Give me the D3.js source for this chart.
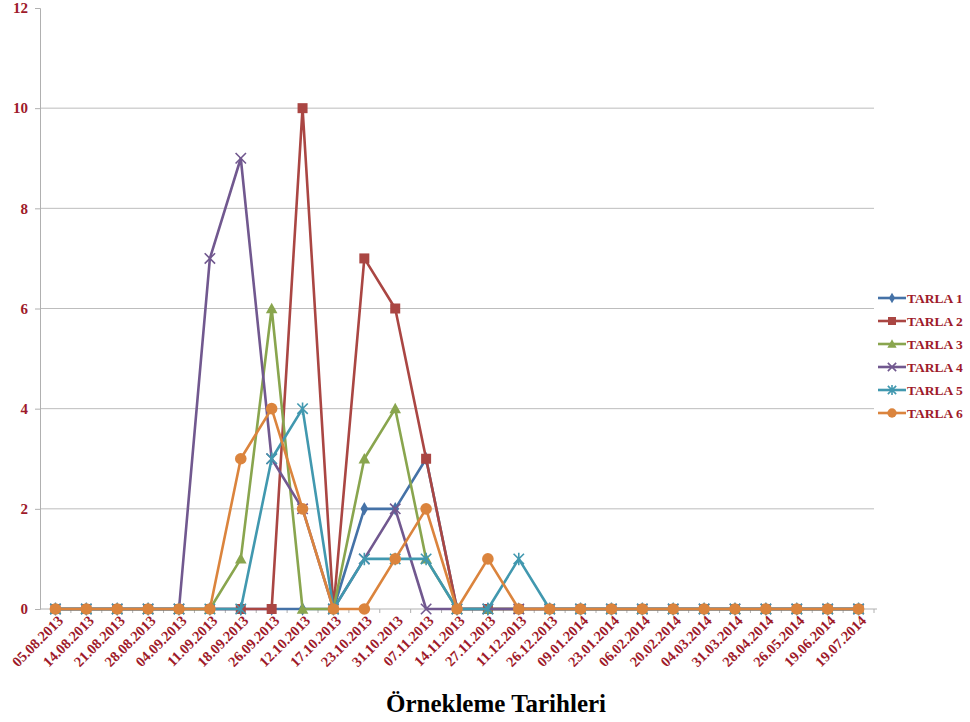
<!DOCTYPE html>
<html>
<head>
<meta charset="utf-8">
<script src="https://cdn.jsdelivr.net/npm/d3@7"></script>
<style>
  html, body { margin: 0; padding: 0; background: #fff; }
  svg { display: block; }
</style>
</head>
<body>
<svg id="chart" width="970" height="722"></svg>
<script>
// Sampling dates (x axis categories)
const dates = ["05.08.2013","14.08.2013","21.08.2013","28.08.2013","04.09.2013","11.09.2013",
  "18.09.2013","26.09.2013","12.10.2013","17.10.2013","23.10.2013","31.10.2013","07.11.2013",
  "14.11.2013","27.11.2013","11.12.2013","26.12.2013","09.01.2014","23.01.2014","06.02.2014",
  "20.02.2014","04.03.2014","31.03.2014","28.04.2014","26.05.2014","19.06.2014","19.07.2014"];

// Counts per field
const tarla1 = [0,0,0,0,0,0,0,0,0,0,2,2,3,0,0,0,0,0,0,0,0,0,0,0,0,0,0];
const tarla2 = [0,0,0,0,0,0,0,0,10,0,7,6,3,0,0,0,0,0,0,0,0,0,0,0,0,0,0];
const tarla3 = [0,0,0,0,0,0,1,6,0,0,3,4,1,0,0,0,0,0,0,0,0,0,0,0,0,0,0];
const tarla4 = [0,0,0,0,0,7,9,3,2,0,1,2,0,0,0,0,0,0,0,0,0,0,0,0,0,0,0];
const tarla5 = [0,0,0,0,0,0,0,3,4,0,1,1,1,0,0,1,0,0,0,0,0,0,0,0,0,0,0];
const tarla6 = [0,0,0,0,0,0,3,4,2,0,0,1,2,0,1,0,0,0,0,0,0,0,0,0,0,0,0];

const seriesNames = ["TARLA 1","TARLA 2","TARLA 3","TARLA 4","TARLA 5","TARLA 6"];
const yTicks = [0,2,4,6,8,10,12];

const colors = ["#4572A7","#AA4643","#89A54E","#71588F","#4198AF","#DB843D"];
const shapes = ["diamond","square","triangle","x","star","circle"];
const series = [tarla1,tarla2,tarla3,tarla4,tarla5,tarla6].map((vals, i) => ({
  name: seriesNames[i], values: vals, color: colors[i], shape: shapes[i]
}));

const labelColor = "#9e1a2a";
const serif = "'Liberation Serif', 'Times New Roman', serif";
const svg = d3.select("#chart");

const x = d3.scaleBand().domain(dates).range([40, 874]);
const y = d3.scaleLinear().domain([0, 12]).range([609, 8]);
const cx = d => x(d) + x.bandwidth() / 2;

// Horizontal gridlines
svg.append("g").selectAll("line")
  .data(yTicks.filter(t => t > 0 && t < 12))
  .join("line")
  .attr("x1", 40).attr("x2", 874)
  .attr("y1", d => y(d)).attr("y2", d => y(d))
  .attr("stroke", "#bdbdbd").attr("stroke-width", 1);

// Y axis
const yAxis = svg.append("g").attr("transform", "translate(40,0)")
  .call(d3.axisLeft(y).tickValues(yTicks).tickSize(5).tickPadding(7).tickFormat(d3.format("d")));
yAxis.select(".domain").attr("stroke", "#b0b0b0");
yAxis.selectAll(".tick line").attr("stroke", "#b0b0b0");
yAxis.selectAll("text")
  .attr("font-family", serif)
  .attr("font-weight", "bold").attr("font-size", 15).attr("fill", labelColor);

// X axis line with ticks between categories
const xg = svg.append("g");
xg.append("line").attr("x1", 40).attr("x2", 877).attr("y1", 609).attr("y2", 609)
  .attr("stroke", "#b0b0b0");
xg.selectAll("line.tk").data(dates.map((d, i) => i)).join("line").attr("class", "tk")
  .attr("x1", i => 40 + (i + 1) * x.bandwidth())
  .attr("x2", i => 40 + (i + 1) * x.bandwidth())
  .attr("y1", 609).attr("y2", 613).attr("stroke", "#b0b0b0");
xg.selectAll("text").data(dates).join("text")
  .attr("transform", d => `translate(${cx(d) + 5},${618}) rotate(-45)`)
  .attr("text-anchor", "end")
  .attr("dy", "0.35em")
  .attr("font-family", serif)
  .attr("font-weight", "bold").attr("font-size", 14.5).attr("fill", labelColor)
  .text(d => d);

// Marker drawing
function marker(g, shape, color, px, py, scale = 1) {
  const s = scale;
  if (shape === "diamond") {
    g.append("path").attr("d", d3.symbol(d3.symbolDiamond, 52 * s * s)())
      .attr("transform", `translate(${px},${py})`).attr("fill", color);
  } else if (shape === "square") {
    const h = 5 * s;
    g.append("rect").attr("x", px - h).attr("y", py - h).attr("width", 2 * h).attr("height", 2 * h)
      .attr("fill", color);
  } else if (shape === "triangle") {
    const h = 5.8 * s;
    g.append("path").attr("d", `M${px},${py - h}L${px + h},${py + h * 0.8}L${px - h},${py + h * 0.8}Z`)
      .attr("fill", color);
  } else if (shape === "x") {
    const h = 5.2 * s;
    g.append("path").attr("d", `M${px - h},${py - h}L${px + h},${py + h}M${px - h},${py + h}L${px + h},${py - h}`)
      .attr("stroke", color).attr("stroke-width", 1.6).attr("fill", "none");
  } else if (shape === "star") {
    const h = 5.2 * s;
    g.append("path").attr("d", `M${px - h},${py - h}L${px + h},${py + h}M${px - h},${py + h}L${px + h},${py - h}M${px},${py - h * 1.2}L${px},${py + h * 1.2}`)
      .attr("stroke", color).attr("stroke-width", 1.6).attr("fill", "none");
  } else if (shape === "circle") {
    g.append("circle").attr("cx", px).attr("cy", py).attr("r", 5.8 * s).attr("fill", color);
  }
}

const line = d3.line().x((v, i) => cx(dates[i])).y(v => y(v));

series.forEach(s => {
  const g = svg.append("g");
  g.append("path").attr("d", line(s.values))
    .attr("fill", "none").attr("stroke", s.color).attr("stroke-width", 2.6)
    .attr("stroke-linejoin", "round");
  s.values.forEach((v, i) => marker(g, s.shape, s.color, cx(dates[i]), y(v)));
});

// Legend
const legend = svg.append("g");
series.forEach((s, i) => {
  const ly = 298 + i * 23;
  legend.append("line").attr("x1", 878).attr("x2", 906).attr("y1", ly).attr("y2", ly)
    .attr("stroke", s.color).attr("stroke-width", 2.6);
  marker(legend, s.shape, s.color, 892, ly, 0.8);
  legend.append("text").attr("x", 907).attr("y", ly).attr("dy", "0.35em")
    .attr("font-family", serif)
    .attr("font-weight", "bold").attr("font-size", 13.5).attr("fill", labelColor)
    .text(s.name);
});

// Axis title
svg.append("text").attr("x", 496).attr("y", 712).attr("text-anchor", "middle")
  .attr("font-family", serif)
  .attr("font-weight", "bold").attr("font-size", 25).attr("fill", "#000")
  .text("Örnekleme Tarihleri");
</script>
</body>
</html>
